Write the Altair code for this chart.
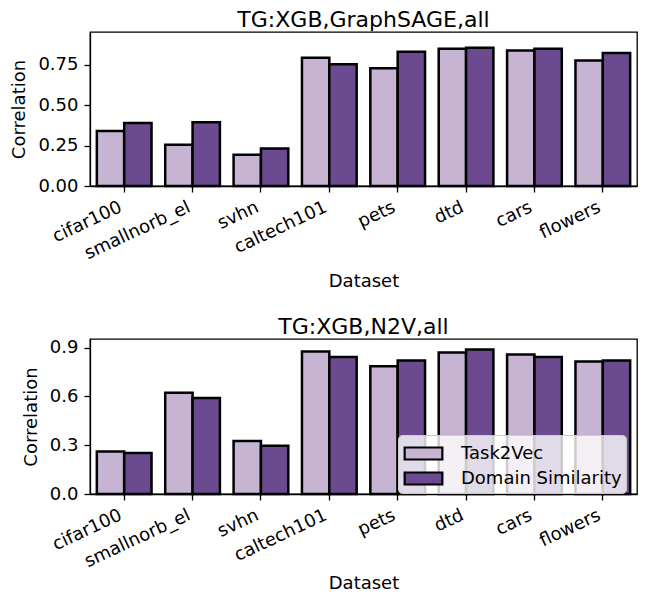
import altair as alt
import pandas as pd

datasets = ["cifar100", "smallnorb_el", "svhn", "caltech101", "pets", "dtd", "cars", "flowers"]
series = ["Task2Vec", "Domain Similarity"]

sage_task2vec = [0.341, 0.256, 0.193, 0.793, 0.728, 0.850, 0.839, 0.776]
sage_domain = [0.390, 0.394, 0.232, 0.754, 0.831, 0.856, 0.850, 0.823]

n2v_task2vec = [0.261, 0.623, 0.326, 0.876, 0.786, 0.870, 0.857, 0.815]
n2v_domain = [0.2525, 0.591, 0.297, 0.843, 0.821, 0.888, 0.843, 0.821]

colors = ["#c7b4d3", "#6b4a8f"]

FONT = "DejaVu Sans"


def make_df(a, b):
    rows = []
    for d, v1, v2 in zip(datasets, a, b):
        rows.append({"Dataset": d, "Method": series[0], "Correlation": v1})
        rows.append({"Dataset": d, "Method": series[1], "Correlation": v2})
    return pd.DataFrame(rows)


def panel(df, title, ticks, fmt, show_legend, h, x_title_pad):
    if show_legend:
        legend = alt.Legend(
            title=None, orient="none", legendX=308, legendY=96,
            symbolType="M-1.45,-0.46H1.45V0.46H-1.45Z", symbolSize=676,
            symbolStrokeColor="black", symbolStrokeWidth=2.2, symbolOffset=7,
            labelFontSize=18, labelFont=FONT, labelColor="black", labelOffset=23,
            labelLimit=400,
            fillColor="rgba(255,255,255,0.8)", strokeColor="#cccccc",
            cornerRadius=4, padding=4, rowPadding=0,
        )
    else:
        legend = None
    return alt.Chart(df, title=alt.Title(title, fontSize=22, font=FONT,
                                           fontWeight="normal", color="black", offset=0)).mark_bar(
        stroke="black", strokeWidth=2.5
    ).encode(
        x=alt.X("Dataset:N", sort=datasets,
                scale=alt.Scale(paddingInner=0.2, paddingOuter=0.1),
                axis=alt.Axis(labelAngle=-25, labelAlign="right", labelBaseline="top",
                              labelOffset=-7, titlePadding=x_title_pad)),
        xOffset=alt.XOffset("Method:N", sort=series, scale=alt.Scale(paddingInner=0, paddingOuter=0)),
        y=alt.Y("Correlation:Q", scale=alt.Scale(domain=[0, 0.953], nice=False),
                axis=alt.Axis(values=ticks, format=fmt, titlePadding=9)),
        color=alt.Color("Method:N", sort=series,
                        scale=alt.Scale(domain=series, range=colors), legend=legend),
    ).properties(width=547, height=h)


top = panel(make_df(sage_task2vec, sage_domain), "TG:XGB,GraphSAGE,all",
            [0, 0.25, 0.5, 0.75], ".2f", False, 154, 10)
bottom = panel(make_df(n2v_task2vec, n2v_domain), "TG:XGB,N2V,all",
               [0, 0.3, 0.6, 0.9], ".1f", True, 155, 4)

chart = alt.vconcat(top, bottom, spacing=22).resolve_scale(color="independent").properties(
    padding={"left": 2, "top": 0, "right": 0, "bottom": 0}
).configure_view(stroke="black", strokeWidth=1.3).configure_axis(
    grid=False, domainColor="black", tickColor="black", labelColor="black",
    titleColor="black", labelFont=FONT, titleFont=FONT,
    labelFontSize=18, titleFontSize=18, titleFontWeight="normal", tickSize=6,
    domainWidth=1.3, tickWidth=1.3, labelPadding=6,
)

chart.save("out.html", embed_options={"renderer": "svg", "actions": False})
